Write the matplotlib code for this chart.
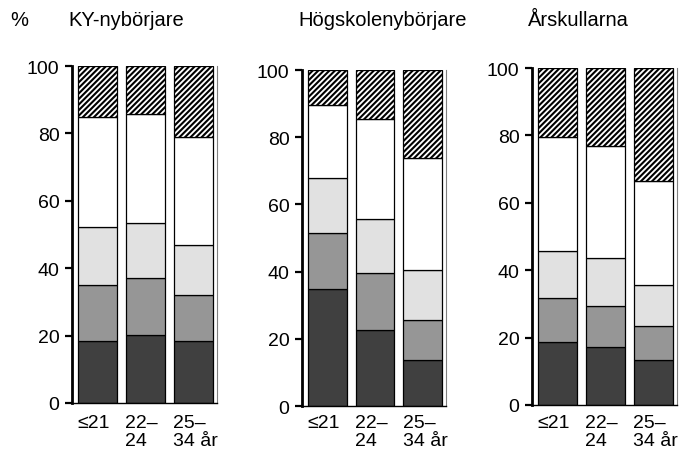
import matplotlib
matplotlib.use("Agg")
import matplotlib.pyplot as plt
import matplotlib.transforms as mtrans
import numpy as np

plt.rcParams['font.family'] = ['Liberation Sans', 'DejaVu Sans']
plt.rcParams['hatch.linewidth'] = 1.5

# Panel titles and age groups
titles = ['KY-nybörjare', 'Högskolenybörjare', 'Årskullarna']
age_labels = ['≤21', '22–\n24', '25–\n34 år']

# Cumulative top of each segment (percent), per panel, per age group
ky_tops = [[18.3, 35.1, 52.2, 85.0, 100],
           [20.1, 37.2, 53.3, 85.7, 100],
           [18.3, 32.1, 46.9, 78.8, 100]]
hs_tops = [[34.7, 51.6, 67.8, 89.6, 100],
           [22.6, 39.5, 55.8, 85.5, 100],
           [13.8, 25.7, 40.6, 73.7, 100]]
ar_tops = [[18.6, 31.7, 45.6, 79.5, 100],
           [17.1, 29.5, 43.6, 77.0, 100],
           [13.5, 23.3, 35.6, 66.6, 100]]
panels = [ky_tops, hs_tops, ar_tops]

seg_colors = ['#404040', '#969696', '#e1e1e1', 'white', 'white']
seg_hatch = [None, None, None, None, '//////']

W, H = 681, 456
fig = plt.figure(figsize=(W / 100, H / 100), dpi=100)

# axes boxes in pixels: left, right, top, bottom
boxes = [(72, 217, 67, 404), (302, 446, 71, 407), (532, 677, 69, 406)]

for tops, title, (l, r, t, b) in zip(panels, titles, boxes):
    ax = fig.add_axes([l / W, 1 - b / H, (r - l) / W, (b - t) / H])
    tops = np.array(tops)
    x = np.arange(len(age_labels))
    for k in range(tops.shape[1]):
        bottom = tops[:, k - 1] if k > 0 else np.zeros(len(x))
        ax.bar(x, tops[:, k] - bottom, bottom=bottom, width=0.81,
               color=seg_colors[k], edgecolor='black', linewidth=0.9,
               hatch=seg_hatch[k])
    ax.set_xlim(-0.53, 2.49)
    ax.set_ylim(0, 100)
    ax.set_yticks(np.arange(0, 101, 20))
    ax.tick_params(axis='y', length=5, width=1.6, labelsize=14, pad=4)
    ax.set_xticks(x)
    ax.set_xticklabels(age_labels, fontsize=14, ha='left', multialignment='left',
                       linespacing=1.05)
    ax.tick_params(axis='x', length=0, pad=8 + (404 - b) * 0.72)
    shift = mtrans.ScaledTranslation(-20 / 100, 0, fig.dpi_scale_trans)
    for lab in ax.get_xticklabels():
        lab.set_transform(lab.get_transform() + shift)
    ax.spines['top'].set_visible(False)
    ax.spines['left'].set_linewidth(2)
    ax.spines['right'].set_linewidth(0.8)
    ax.spines['right'].set_color('#808080')
    ax.spines['bottom'].set_linewidth(1)
    fig.text((l - 4) / W, 1 - 20 / H, title, fontsize=14.5, va='center', ha='left')

fig.text(10 / W, 1 - 20 / H, '%', fontsize=14.5, va='center', ha='left')

fig.savefig('out.png', dpi=100)
